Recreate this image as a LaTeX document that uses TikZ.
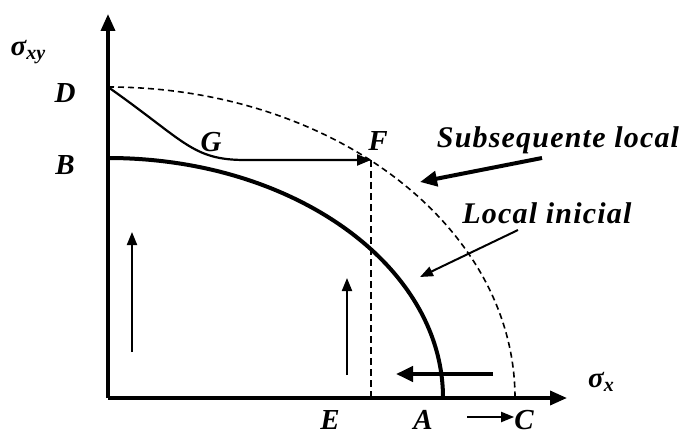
\documentclass[tikz,border=0pt]{standalone}
\usepackage{fontspec}
\setmainfont{Liberation Serif}
\newfontfamily\spacedfont[LetterSpace=4]{Liberation Serif}
\usetikzlibrary{arrows.meta}

\begin{document}
\begin{tikzpicture}[x=1pt, y=1pt,
  lbl/.style={font=\fontsize{29}{32}\selectfont\bfseries\itshape, inner sep=0pt},
  txt/.style={font=\fontsize{30}{34}\selectfont\spacedfont\bfseries\itshape, inner sep=0pt},
  axis/.style={line width=3.5pt, -{Triangle[length=17pt, width=14pt]}},
  arr/.style={line width=2pt, -{Triangle[length=13pt, width=10pt]}},
  barr/.style={line width=4pt, -{Triangle[length=17pt, width=15pt]}},
  yld/.style={line width=4pt},
  dsh/.style={line width=1.6pt, dash pattern=on 6pt off 4pt},
]
\useasboundingbox (0,0) rectangle (682,437);
% Points of the diagram
\coordinate (O) at (108,39);
\coordinate (ytop) at (108,423);
\coordinate (xend) at (567,39);
\coordinate (D) at (108,350);
\coordinate (B) at (108,279);
\coordinate (F) at (371,277);
\coordinate (E) at (371,39);
\coordinate (Gb) at (245,277);
% Axes
\draw[axis] (O) -- (ytop);
\draw[axis] (O) -- (xend);
% Initial and subsequent yield loci
\draw[yld] (B) arc[start angle=90, end angle=0, x radius=335, y radius=240];
\draw[dsh] (D) arc[start angle=90, end angle=0, x radius=407, y radius=311];
% Load path D-G-F
\draw[line width=2.2pt, -{Triangle[length=14pt, width=11pt]}]
  (D) .. controls (185,296) and (192,277) .. (Gb) -- (F);
\draw[line width=2pt, dash pattern=on 7pt off 4pt] (F) -- (E);
% Labels
\node[lbl] (sxy) at (28,385) {σ\raisebox{-0.35ex}{\fontsize{20}{22}\selectfont xy}};
\node[lbl] (sx)  at (601,55) {σ\raisebox{-0.35ex}{\fontsize{20}{22}\selectfont x}};
\node[lbl] (lD) at (65,344) {D};
\node[lbl] (lB) at (65,272) {B};
\node[lbl] (lG) at (211,295) {G};
\node[lbl] (lF) at (378,296) {F};
\node[lbl] (lE) at (330,17) {E};
\node[lbl] (lA) at (423,17) {A};
\node[lbl] (lC) at (524,17) {C};
\node[txt] (sub) at (558,297) {Subsequente local};
\node[txt] (ini) at (547,224) {Local inicial};
% Pointer arrows
\coordinate (s1) at (542,279);  \coordinate (t1) at (420,255);
\coordinate (s2) at (518,207);  \coordinate (t2) at (420,160);
\draw[barr] (s1) -- (t1);
\draw[arr] (s2) -- (t2);
% Direction arrows
\coordinate (u1) at (132,85);   \coordinate (v1) at (132,205);
\coordinate (u2) at (347,62);   \coordinate (v2) at (347,159);
\coordinate (w1) at (493,63);   \coordinate (w2) at (396,63);
\coordinate (c1) at (467,20);
\draw[arr] (u1) -- (v1);
\draw[arr] (u2) -- (v2);
\draw[barr] (w1) -- (w2);
\draw[arr] (c1) -- (c1 -| lC.west);
\end{tikzpicture}
\end{document}
